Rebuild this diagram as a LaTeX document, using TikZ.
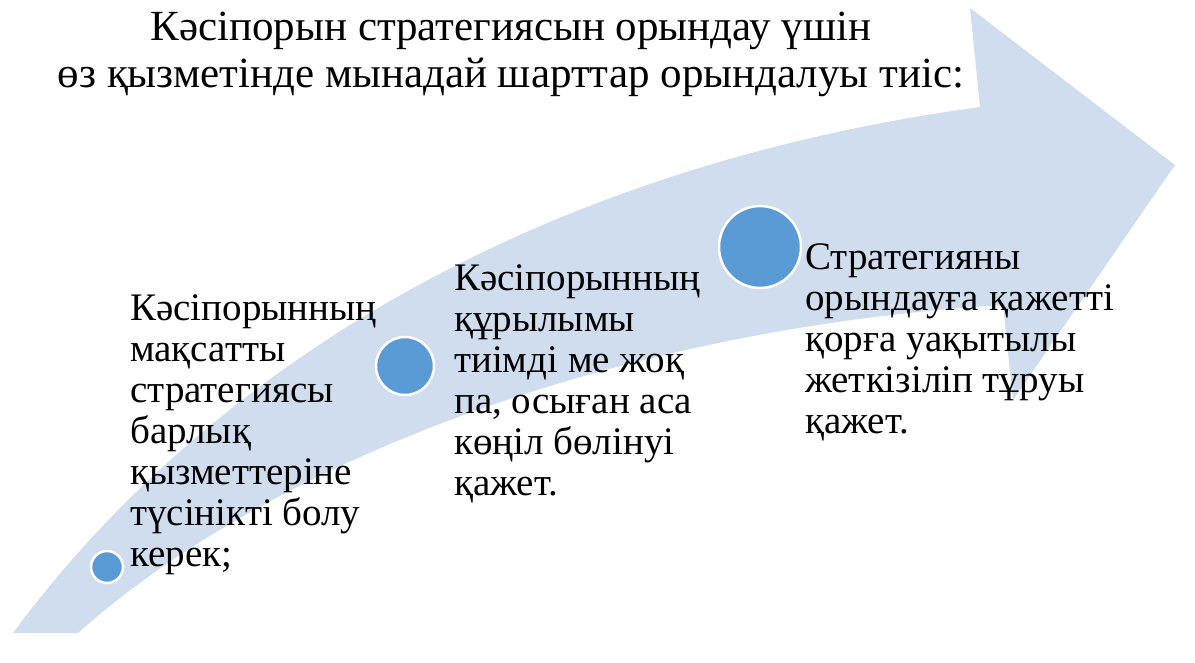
\documentclass[tikz,border=0pt]{standalone}
\usepackage{fontspec}
\setmainfont{Liberation Serif}
\usepackage{tikz}
\usetikzlibrary{positioning}
\definecolor{arrowbg}{RGB}{208,221,238}
\definecolor{dotfill}{RGB}{91,155,213}
\tikzset{
  stepdot/.style={
    circle,
    draw=white,
    line width=2.5pt,
    fill=dotfill,
    inner sep=0pt
  },
  steptext/.style={
    anchor=north west,
    align=left,
    inner sep=0pt,
    font=\fontsize{39}{41}\selectfont
  },
  titletext/.style={
    anchor=north,
    align=center,
    inner sep=0pt,
    font=\fontsize{43}{47}\selectfont
  }
}

\begin{document}
\begin{tikzpicture}[x=1pt, y=-1pt]
  \useasboundingbox (0,0) rectangle (1195,663);
  % the wide curved arrow in the back
  \fill[arrowbg] (13,633) .. controls (200,380) and (520,170) .. (980,107)
    -- (970,8) -- (1175,165) -- (1013,400) -- (1003,305)
    .. controls (600,330) and (260,470) .. (78,633) -- cycle;

  \node[titletext] (title) at (511,12) {Кәсіпорын стратегиясын орындау үшін\\өз қызметінде мынадай шарттар орындалуы тиіс:};

  \node[stepdot, minimum size=32pt] (dotone) at (107,567) {};
  \node[stepdot, minimum size=58pt] (dottwo) at (405,366) {};
  \node[stepdot, minimum size=82pt] (dotthree) at (760,247) {};

  \node[steptext] (stepone) at (130,294) {Кәсіпорынның\\мақсатты\\стратегиясы\\барлық\\қызметтеріне\\түсінікті болу\\керек;};
  \node[steptext] (steptwo) at (454,264) {Кәсіпорынның\\құрылымы\\тиімді ме жоқ\\па, осыған аса\\көңіл бөлінуі\\қажет.};
  \node[steptext] (stepthree) at (805,243) {Стратегияны\\орындауға қажетті\\қорға уақытылы\\жеткізіліп тұруы\\қажет.};
\end{tikzpicture}
\end{document}
